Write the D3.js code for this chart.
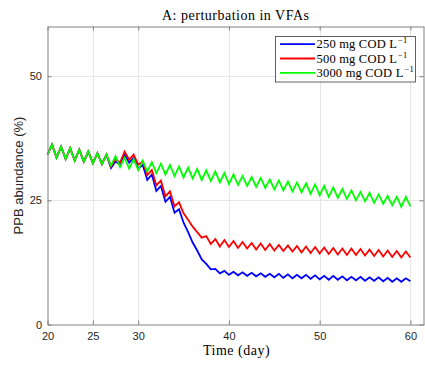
<!DOCTYPE html>
<html lang="en">
  <head>
    <meta charset="UTF-8" />
    <title>PPB abundance</title>
    <style>
      body { margin: 0; background: #fff; }
    </style>
  </head>
  <body>
    <svg id="svg" width="425" height="367"></svg>
    <script src="https://cdn.jsdelivr.net/npm/d3@7/dist/d3.min.js"></script>
    <script>
      // sample times (every half day, 20 -> 60)
      const days = d3.range(20, 60.5, 0.5)

      const seriesNames = ['250 mg COD L', '500 mg COD L', '3000 mg COD L']
      const seriesColors = ['#0000ff', '#ff0000', '#00ff00']

      // PPB abundance (%)
      const ppb250 = [
        34.2, 36.2, 33.6, 35.8, 33.3, 35.5, 33.0, 35.2, 32.8, 34.8,
        32.5, 34.5, 32.3, 34.2, 31.5, 32.8, 32.2, 34.3, 32.6, 33.6,
        31.4, 32.1, 29.1, 30.2, 26.9, 27.9, 24.7, 25.7, 22.5, 23.2,
        20.5, 18.6, 16.5, 14.9, 13.1, 12.2, 11.1, 11.2, 10.3, 10.8,
        10.0, 10.6, 9.9, 10.5, 9.8, 10.4, 9.7, 10.3, 9.6, 10.2,
        9.5, 10.2, 9.4, 10.1, 9.3, 10.0, 9.3, 10.0, 9.2, 9.9,
        9.1, 9.8, 9.0, 9.8, 9.0, 9.7, 8.9, 9.6, 8.9, 9.6,
        8.8, 9.5, 8.8, 9.5, 8.7, 9.4, 8.6, 9.3, 8.6, 9.3,
        8.7
      ]
      const ppb500 = [
        34.2, 36.2, 33.6, 35.8, 33.3, 35.5, 33.0, 35.2, 32.8, 34.8,
        32.5, 34.5, 32.3, 34.2, 31.8, 33.3, 32.6, 34.8, 33.2, 34.2,
        32.2, 32.8, 30.1, 31.1, 28.0, 29.0, 25.8, 26.8, 23.8, 24.6,
        22.4, 21.1, 19.7, 18.6, 17.5, 17.8, 16.2, 17.2, 15.7, 17.0,
        15.6, 16.8, 15.4, 16.6, 15.3, 16.4, 15.1, 16.3, 15.0, 16.2,
        14.9, 16.0, 14.8, 15.9, 14.7, 15.8, 14.5, 15.7, 14.4, 15.6,
        14.3, 15.5, 14.2, 15.4, 14.1, 15.3, 14.0, 15.3, 14.0, 15.2,
        13.9, 15.1, 13.8, 15.0, 13.7, 14.9, 13.6, 14.8, 13.5, 14.7,
        13.5
      ]
      const ppb3000 = [
        34.2, 36.2, 33.6, 35.8, 33.3, 35.5, 33.0, 35.2, 32.8, 34.8,
        32.5, 34.5, 32.3, 34.2, 32.0, 33.9, 31.7, 33.6, 31.4, 33.3,
        31.1, 33.0, 30.8, 32.7, 30.5, 32.4, 30.2, 32.1, 29.9, 31.8,
        29.6, 31.6, 29.4, 31.3, 29.1, 31.0, 28.9, 30.8, 28.6, 30.5,
        28.3, 30.2, 28.1, 29.9, 27.9, 29.7, 27.7, 29.5, 27.5, 29.2,
        27.2, 29.0, 27.0, 28.8, 26.8, 28.6, 26.6, 28.4, 26.3, 28.2,
        26.0, 27.9, 25.7, 27.6, 25.5, 27.3, 25.3, 27.0, 25.0, 26.7,
        24.8, 26.5, 24.5, 26.2, 24.3, 25.9, 24.0, 25.7, 23.7, 25.7,
        23.8
      ]

      const xTicks = [20, 25, 30, 40, 50, 60]
      const yTicks = [0, 25, 50]

      const svg = d3.select('#svg')
      const width = +svg.attr('width')
      const height = +svg.attr('height')
      const margin = { left: 47.5, top: 26.5, right: 1, bottom: 42.5 }

      const x = d3.scaleLinear().domain([20, 61.5]).range([margin.left, width - margin.right])
      const y = d3.scaleLinear().domain([0, 60]).range([height - margin.bottom, margin.top])

      const axisColor = '#808080'
      const textColor = '#262626'

      // grid
      const grid = svg.append('g').attr('stroke', '#e6e6e6').attr('stroke-width', 1)
      grid.selectAll('.gx')
        .data(xTicks.slice(1))
        .enter()
        .append('line')
        .attr('x1', (d) => Math.round(x(d)) + 0.5)
        .attr('x2', (d) => Math.round(x(d)) + 0.5)
        .attr('y1', y(60))
        .attr('y2', y(0))
      grid.selectAll('.gy')
        .data(yTicks.slice(1))
        .enter()
        .append('line')
        .attr('y1', (d) => Math.round(y(d)) + 0.5)
        .attr('y2', (d) => Math.round(y(d)) + 0.5)
        .attr('x1', x.range()[0])
        .attr('x2', x.range()[1])

      // lines: blue first, green ends on top
      const line = d3.line()
        .x((d, i) => x(days[i]))
        .y((d) => y(d))

      const allSeries = [ppb250, ppb500, ppb3000]
      svg.append('g')
        .selectAll('path')
        .data(allSeries)
        .enter()
        .append('path')
        .attr('d', line)
        .attr('fill', 'none')
        .attr('stroke', (d, i) => seriesColors[i])
        .attr('stroke-width', 1.8)
        .attr('stroke-linejoin', 'miter')

      // axes (MATLAB style box, ticks pointing inward)
      const tickLen = 4
      const styleAxis = (g) => {
        g.select('.domain').attr('stroke', axisColor)
        g.selectAll('.tick line').attr('stroke', axisColor)
        g.selectAll('text')
          .attr('fill', textColor)
          .attr('font-family', '"Liberation Sans", Arial, sans-serif')
          .attr('font-size', 11)
      }

      svg.append('g')
        .attr('transform', `translate(0,${y(0)})`)
        .call(d3.axisBottom(x).tickValues(xTicks).tickSizeInner(-tickLen).tickSizeOuter(0).tickPadding(8))
        .call(styleAxis)
      svg.append('g')
        .attr('transform', `translate(0,${y(60)})`)
        .call(d3.axisTop(x).tickValues(xTicks).tickSizeInner(-tickLen).tickSizeOuter(0).tickFormat(''))
        .call(styleAxis)
      svg.append('g')
        .attr('transform', `translate(${x(20)},0)`)
        .call(d3.axisLeft(y).tickValues(yTicks).tickSizeInner(-tickLen).tickSizeOuter(0).tickPadding(5.5))
        .call(styleAxis)
      svg.append('g')
        .attr('transform', `translate(${x.range()[1] - 0.5},0)`)
        .call(d3.axisRight(y).tickValues(yTicks).tickSizeInner(-tickLen).tickSizeOuter(0).tickFormat(''))
        .call(styleAxis)

      // title and labels
      const serif = '"Liberation Serif", "Times New Roman", serif'
      svg.append('text')
        .attr('x', (x.range()[0] + x.range()[1]) / 2)
        .attr('y', 20)
        .attr('text-anchor', 'middle')
        .attr('font-family', serif)
        .attr('font-size', 14)
        .attr('letter-spacing', 0.5)
        .attr('fill', '#000')
        .text('A: perturbation in VFAs')

      svg.append('text')
        .attr('x', 236.5)
        .attr('y', 355)
        .attr('text-anchor', 'middle')
        .attr('font-family', serif)
        .attr('font-size', 14)
        .attr('letter-spacing', 0.5)
        .attr('fill', '#000')
        .text('Time (day)')

      svg.append('text')
        .attr('transform', `translate(23,${(y(0) + y(60)) / 2}) rotate(-90)`)
        .attr('text-anchor', 'middle')
        .attr('font-family', '"Liberation Sans", Arial, sans-serif')
        .attr('font-size', 13)
        .attr('fill', textColor)
        .text('PPB abundance (%)')

      // legend
      const legend = svg.append('g')
      legend.append('rect')
        .attr('x', 275.5)
        .attr('y', 36.5)
        .attr('width', 140)
        .attr('height', 45.5)
        .attr('fill', '#fff')
        .attr('stroke', '#3a3a3a')
        .attr('stroke-width', 0.8)

      const items = legend.selectAll('.item')
        .data(seriesNames)
        .enter()
        .append('g')
        .attr('transform', (d, i) => `translate(0,${44.2 + i * 14.3})`)
      items.append('line')
        .attr('x1', 280)
        .attr('x2', 315)
        .attr('stroke', (d, i) => seriesColors[i])
        .attr('stroke-width', 1.8)
      const lt = items.append('text')
        .attr('x', 316.5)
        .attr('y', 4)
        .attr('font-family', serif)
        .attr('font-size', 12.5)
        .attr('letter-spacing', 0.2)
        .attr('fill', '#000')
        .text((d) => d)
      lt.append('tspan')
        .attr('dy', -5)
        .attr('dx', 1)
        .attr('font-size', 8.5)
        .text('\u22121')
    </script>
  </body>
</html>
